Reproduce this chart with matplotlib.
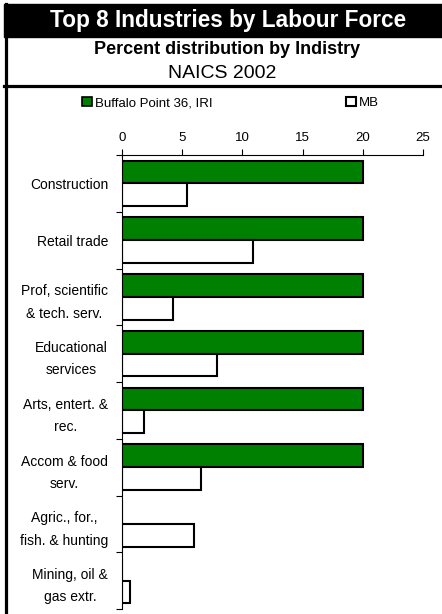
"""
Top 8 industries by labour force, Buffalo Point 36 IRI vs MB (NAICS 2002).
Horizontal grouped bars, axis on top, framed header block.
"""

import numpy as np
import matplotlib
matplotlib.use("Agg")
import matplotlib.pyplot as plt
from matplotlib.patches import Rectangle, Patch
from matplotlib.lines import Line2D

plt.rcParams["font.family"] = ["Liberation Sans", "DejaVu Sans"]

# ── data ─────────────────────────────────────────────────────────────────────
industries = [
    "Construction",
    "Retail trade",
    "Prof, scientific\n& tech. serv.",
    "Educational\nservices",
    "Arts, entert. &\nrec.",
    "Accom & food\nserv.",
    "Agric., for.,\nfish. & hunting",
    "Mining, oil &\ngas extr.",
]
buffalo_point = [20, 20, 20, 20, 20, 20, 0, 0]
mb            = [5.4, 10.9, 4.2, 7.9, 1.8, 6.6, 6.0, 0.7]
x_ticks       = [0, 5, 10, 15, 20, 25]
series_names  = ["Buffalo Point 36, IRI", "MB"]

GREEN = "#008000"

# ── figure ───────────────────────────────────────────────────────────────────
W, H = 442, 614
fig = plt.figure(figsize=(W / 100, H / 100), dpi=100)

def fx(px):
    return px / W

def fy(py):
    return 1 - py / H

# header: black band, left border, separator line
fig.patches.append(Rectangle((fx(4), fy(37)), 1 - fx(4), (37 - 4) / H,
                             transform=fig.transFigure, color="black", zorder=0))
fig.lines.append(Line2D([fx(5.5), fx(5.5)], [0, fy(4)], transform=fig.transFigure,
                        color="black", linewidth=2.3))
fig.lines.append(Line2D([fx(4), 1], [fy(85.5), fy(85.5)], transform=fig.transFigure,
                        color="black", linewidth=2.3))

fig.text(fx(228), fy(20.5), "Top 8 Industries by Labour Force", color="white",
         fontsize=16.3, fontweight="bold", ha="center", va="center")
fig.text(fx(227), fy(49), "Percent distribution by Indistry",
         fontsize=13, fontweight="bold", ha="center", va="center")
fig.text(fx(222), fy(74), "NAICS 2002", fontsize=14, ha="center", va="center")

# ── axes ─────────────────────────────────────────────────────────────────────
ax = fig.add_axes([fx(122), fy(609), fx(423) - fx(122), (609 - 155) / H])

y = np.arange(len(industries))
h = 0.4
ax.barh(y - h / 2, buffalo_point, height=h, color=GREEN, edgecolor="black", linewidth=1.5)
ax.barh(y + h / 2, mb, height=h, color="white", edgecolor="black", linewidth=1.5)

ax.set_xlim(0, 25)
ax.set_ylim(len(industries) - 0.5, -0.5)
ax.xaxis.tick_top()
ax.set_xticks(x_ticks)
ax.set_xticklabels([str(t) for t in x_ticks], fontsize=9.5)
ax.tick_params(axis="x", direction="out", length=4, width=0.8, pad=4)

ax.set_yticks(y)
ax.set_yticklabels(industries, fontsize=10, multialignment="center", linespacing=1.75)
ax.tick_params(axis="y", which="major", length=0, pad=10)
ax.set_yticks(np.arange(len(industries) + 1) - 0.5, minor=True)
ax.tick_params(axis="y", which="minor", length=4, width=0.8, direction="out")

for side in ("right", "bottom"):
    ax.spines[side].set_visible(False)
ax.spines["top"].set_linewidth(0.8)
ax.spines["left"].set_linewidth(0.8)

# ── legend (one entry each, placed like the original) ─────────────────────────
handles = [Patch(facecolor=GREEN, edgecolor="black", linewidth=1.2),
           Patch(facecolor="white", edgecolor="black", linewidth=1.5)]
for handle, name, x_px in zip(handles, series_names, [82, 346]):
    fig.legend([handle], [name], frameon=False, fontsize=9.5,
               loc="center left", bbox_to_anchor=(fx(x_px), fy(103)),
               handlelength=0.75, handleheight=0.75, handletextpad=0.2,
               borderpad=0, borderaxespad=0)

fig.savefig("out.png", dpi=100)
